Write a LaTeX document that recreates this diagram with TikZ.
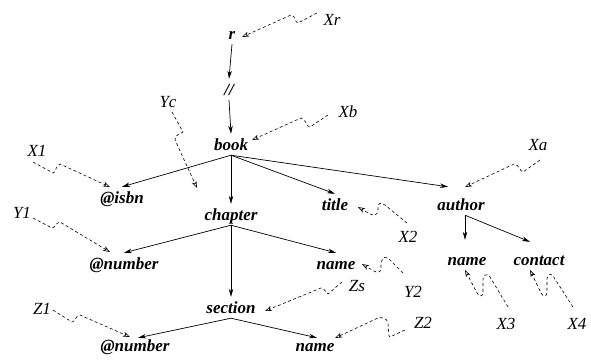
\documentclass[tikz,border=0pt]{standalone}
\usepackage{fontspec}
\setmainfont{Liberation Serif}
\usetikzlibrary{arrows.meta,calc}
\begin{document}
\begin{tikzpicture}[x=1pt,y=-1pt,
  elem/.style={font=\fontsize{17}{20}\selectfont\bfseries\itshape, inner xsep=2pt, inner ysep=3pt, text height=13pt, text depth=2pt, anchor=base},
  lab/.style={font=\fontsize{17}{20}\selectfont\itshape, inner sep=1pt},
  sol/.style={line width=0.7pt, -{Stealth[length=8pt,width=4.5pt,inset=2.5pt]}},
  dsh/.style={line width=0.6pt, dash pattern=on 3pt off 2.5pt, -{Stealth[open,length=7pt,width=5pt,inset=2pt]}}]
\useasboundingbox (0,0) rectangle (591,360);
% element nodes
\node[elem] (r) at (232,39) {r};
\node[elem] (sl) at (229,95) {//};
\node[elem] (book) at (231,150) {book};
\node[elem] (isbn) at (122,203) {@isbn};
\node[elem] (chapter) at (231,220) {chapter};
\node[elem] (title) at (335,210) {title};
\node[elem] (author) at (461,210) {author};
\node[elem] (num1) at (124,269) {@number};
\node[elem] (name1) at (336,269) {name};
\node[elem] (section) at (231,313) {section};
\node[elem] (num2) at (135,351) {@number};
\node[elem] (name2) at (315,351) {name};
\node[elem] (name3) at (467,265) {name};
\node[elem] (contact) at (539,265) {contact};
% labels
\node[lab] (lXr) at (332,20) {Xr};
\node[lab] (lXb) at (348,112) {Xb};
\node[lab] (lYc) at (168,102) {Yc};
\node[lab] (lX1) at (37,151) {X1};
\node[lab] (lXa) at (538,145) {Xa};
\node[lab] (lX2) at (408,237) {X2};
\node[lab] (lY1) at (22,213) {Y1};
\node[lab] (lY2) at (413,292) {Y2};
\node[lab] (lZs) at (357,286) {Zs};
\node[lab] (lZ1) at (42,309) {Z1};
\node[lab] (lZ2) at (423,323) {Z2};
\node[lab] (lX3) at (506,324) {X3};
\node[lab] (lX4) at (577,324) {X4};
\coordinate (ycend) at (197,188);
% solid edges
\draw[sol] (r.south) -- (sl.north);
\draw[sol] (sl.south) -- (book.north);
\draw[sol] (book.south) -- (isbn.north);
\draw[sol] (book.south) -- (chapter.north);
\draw[sol] (book.south) -- (title.north);
\draw[sol] (book.south) -- ($(author.north)+(-13,-7)$);
\draw[sol] (chapter.south) -- (num1.north);
\draw[sol] (chapter.south) -- (name1.north);
\draw[sol] (chapter.south) -- (section.north);
\draw[sol] (section.south) -- ($(num2.north)+(3,3)$);
\draw[sol] (section.south) -- ($(name2.north)+(2,3)$);
\draw[sol] ($(author.south)+(4,0)$) -- ($(name3.north)+(-2,-9)$);
\draw[sol] ($(author.south)+(4,0)$) -- ($(contact.north)+(-9,-7)$);
% dashed pointers
\draw[dsh] ($(lXr)+(-15,-7)$) -- (298,23) .. controls (295,23) and (296,16) .. (291,15) -- ($(r.base)+(10,-2)$);
\draw[dsh] ($(lXb)+(-20,3)$) -- (310,127) .. controls (306,127) and (307,120) .. (301,118) -- ($(book.base)+(21,-10)$);
\draw[dsh] ($(lYc)+(4,10)$) -- (183,132) .. controls (181,134) and (175,134) .. (175,140) -- (ycend);
\draw[dsh] ($(lX1)+(-4,11)$) -- (53,173) .. controls (56,173) and (55,166) .. (60,164) -- ($(isbn.base)+(-12,-16)$);
\draw[dsh] ($(lXa)+(2,15)$) -- (523,172) .. controls (520,172) and (520,165) .. (514,164) -- ($(author.base)+(4,-23)$);
\draw[dsh] ($(lX2)+(-1,-14)$) -- (385,205) .. controls (380,201) and (377,204) .. (378,210) .. controls (378,215) and (374,216) .. (370,214) -- ($(title.base)+(23,-3)$);
\draw[dsh] ($(lY1)+(11,5)$) -- (52,228) .. controls (55,228) and (55,223) .. (60,222) -- ($(num1.base)+(-14,-17)$);
\draw[dsh] ($(lY2)+(-10,-19)$) -- (388,258) .. controls (383,255) and (380,262) .. (381,268) .. controls (381,273) and (377,273) .. (374,271) -- ($(name1.base)+(26,-5)$);
\draw[dsh] ($(lZs)+(-15,-4)$) -- (328,294) .. controls (326,294) and (326,289) .. (321,288) -- ($(section.base)+(34,-2)$);
\draw[dsh] ($(lZ1)+(11,1)$) -- (72,322) .. controls (75,322) and (75,316) .. (80,315) -- ($(num2.base)+(-5,-14)$);
\draw[dsh] ($(lZ2)+(-18,7)$) -- (390,337) .. controls (388,337) and (389,330) .. (388,323) .. controls (387,318) and (382,317) .. (378,318) -- ($(name2.base)+(20,-13)$);
\draw[dsh] ($(lX3)+(2,-17)$) -- (490,277) .. controls (487,272) and (482,275) .. (483,283) -- (483,292) .. controls (483,297) and (479,297) .. (477,293) -- ($(name3.base)+(-2,5)$);
\draw[dsh] ($(lX4)+(-4,-17)$) -- (553,276) .. controls (550,272) and (546,275) .. (547,283) -- (547,292) .. controls (547,297) and (543,297) .. (541,293) -- ($(contact.base)+(-9,5)$);
\end{tikzpicture}
\end{document}
